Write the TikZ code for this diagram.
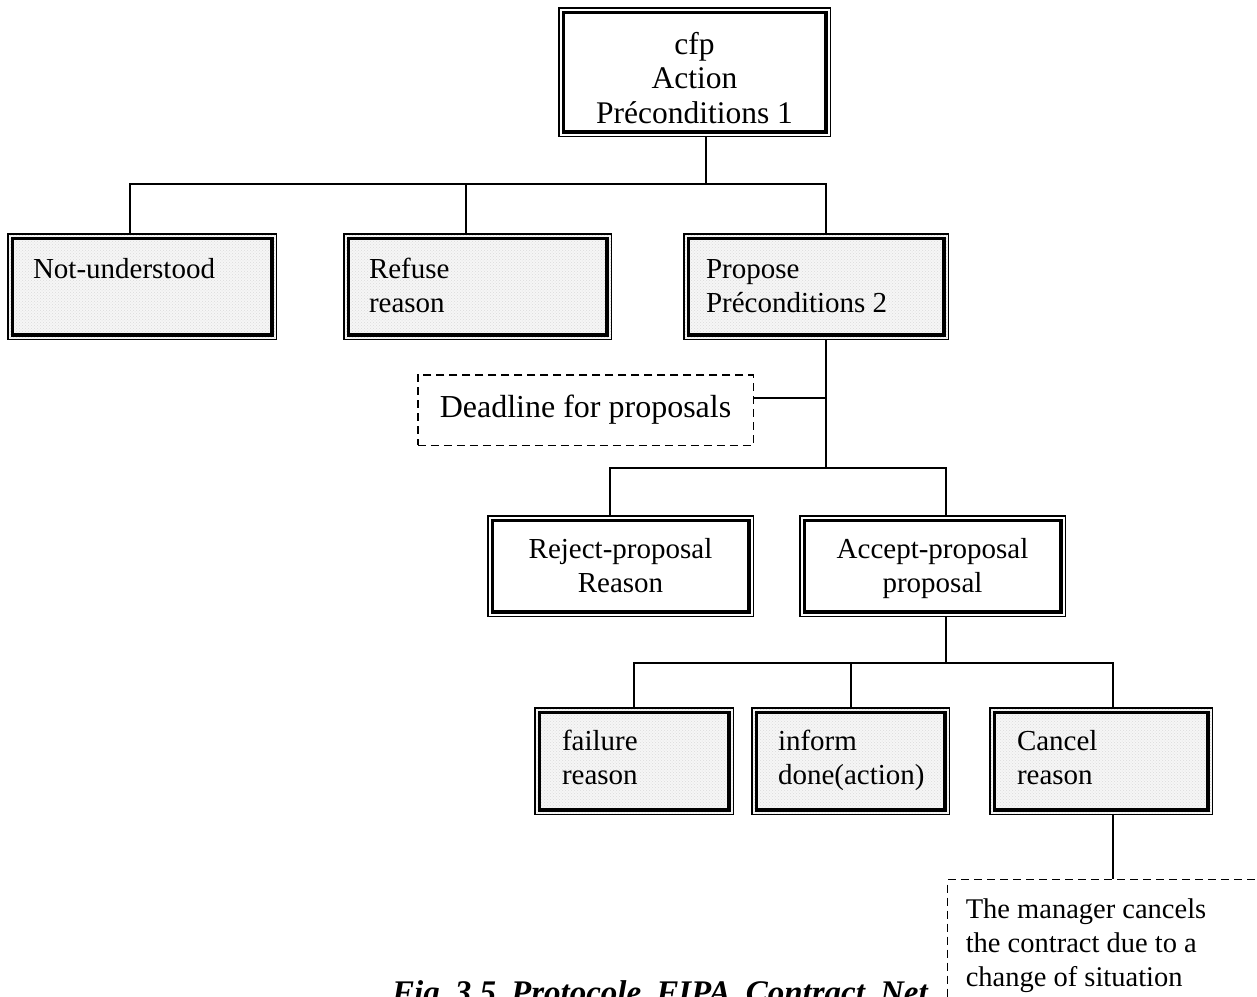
\documentclass[tikz,border=0pt]{standalone}
\usepackage{fontspec}
\setmainfont{Liberation Serif}
\usetikzlibrary{patterns}

% text block inside a framed box: width, height, alignment, first baseline, text
\newcommand\boxtxt[5]{\parbox[c][#2][t]{#1}{#3\rule{0pt}{#4}#5}}
\newcommand\bodyfont{\fontsize{29pt}{34pt}\selectfont}
\newcommand\headfont{\fontsize{31.5pt}{34.5pt}\selectfont}
\newcommand\notefont{\fontsize{28.5pt}{34pt}\selectfont}

\tikzset{
  wire/.style={line width=2pt},
  frame/.style={draw, line width=1.5pt, inner sep=0pt,
    path picture={\draw[line width=3.5pt]
      ([xshift=4.5pt,yshift=-4.5pt]path picture bounding box.north west) rectangle
      ([xshift=-4.5pt,yshift=4.5pt]path picture bounding box.south east);}},
  shaded/.style={frame, preaction={fill=gray!7},
    pattern=crosshatch dots, pattern color=gray!28},
  plain/.style={frame, fill=white},
  note/.style={draw, line width=1.5pt, dash pattern=on 8pt off 5pt,
    fill=white, inner sep=0pt},
}

\begin{document}
\begin{tikzpicture}[x=1pt,y=-1pt]
\useasboundingbox (0,0) rectangle (1257,996);
\clip (0,0) rectangle (1257,996);
\fill[white] (0,0) rectangle (1257,996);

% root message
\node[plain] (top) at (694.5,72)
  {\boxtxt{271.5pt}{128.5pt}{\headfont\centering}{46.25pt}{cfp\\Action\\Préconditions 1}};

% answers to the call for proposals
\node[shaded] (nu) at (142,286.5)
  {\boxtxt{268.5pt}{105.5pt}{\bodyfont\raggedright\leftskip=25.25pt}{44.25pt}{Not-understood}};
\node[shaded] (re) at (477.5,286.5)
  {\boxtxt{267.5pt}{105.5pt}{\bodyfont\raggedright\leftskip=25.25pt}{44.25pt}{Refuse\\reason}};
\node[shaded] (pr) at (816,286.5)
  {\boxtxt{264.5pt}{105.5pt}{\bodyfont\raggedright\leftskip=22.25pt}{44.25pt}{Propose\\Préconditions 2}};

% deadline note
\node[note, minimum width=335.5pt, minimum height=70.5pt,
      font=\fontsize{32pt}{36pt}\selectfont] (dl) at (585.5,410) {Deadline for proposals};

% manager's decision
\node[plain] (rj) at (620.5,566)
  {\boxtxt{265.5pt}{100.5pt}{\bodyfont\centering}{42.25pt}{Reject-proposal\\Reason}};
\node[plain] (ac) at (932.5,566)
  {\boxtxt{265.5pt}{100.5pt}{\bodyfont\centering}{42.25pt}{Accept-proposal\\proposal}};

% outcome of the contract
\node[shaded] (fa) at (634,761)
  {\boxtxt{198.5pt}{106.5pt}{\bodyfont\raggedright\leftskip=27.25pt}{42.25pt}{failure\\reason}};
\node[shaded] (in) at (850.5,761)
  {\boxtxt{197.5pt}{106.5pt}{\bodyfont\raggedright\leftskip=26.25pt}{42.25pt}{inform\\done(action)}};
\node[shaded] (ca) at (1101,761)
  {\boxtxt{222.5pt}{106.5pt}{\bodyfont\raggedright\leftskip=27.25pt}{42.25pt}{Cancel\\reason}};

% caption
\node[anchor=base west, inner sep=0pt,
      font=\fontsize{33pt}{36pt}\selectfont\bfseries\itshape] (cap) at (392,1003)
  {\spaceskip=15pt Fig 3.5 Protocole FIPA Contract Net};

% cancellation note
\node[note, anchor=north west] (mg) at (946.75,878.75)
  {\boxtxt{340pt}{160pt}{\notefont\raggedright\leftskip=18.25pt}{39pt}{The manager cancels\\the contract due to a\\change of situation}};

% connectors
\coordinate (b1) at (706,184);
\coordinate (b2) at (826,468);
\coordinate (b3) at (946,663);

\draw[wire] (top.south -| b1) -- (b1);
\draw[wire] ([xshift=-12pt]nu.north) |- (b1) -| ([xshift=10pt]pr.north);
\draw[wire] ([xshift=-11.5pt]re.north) -- ([xshift=-11.5pt]re.north |- b1);

\draw[wire] ([xshift=10pt]pr.south) -- (b2);
\draw[wire] ([yshift=12pt]dl.east) -- ([yshift=12pt]dl.east -| b2);
\draw[wire] ([xshift=-10.5pt]rj.north) |- (b2) -| ([xshift=13.5pt]ac.north);

\draw[wire] ([xshift=13.5pt]ac.south) -- (b3);
\draw[wire] (fa.north) |- (b3) -| ([xshift=12pt]ca.north);
\draw[wire] (in.north) -- (in.north |- b3);

\draw[wire] ([xshift=12pt]ca.south) -- ([xshift=12pt]ca.south |- mg.north);
\end{tikzpicture}
\end{document}
